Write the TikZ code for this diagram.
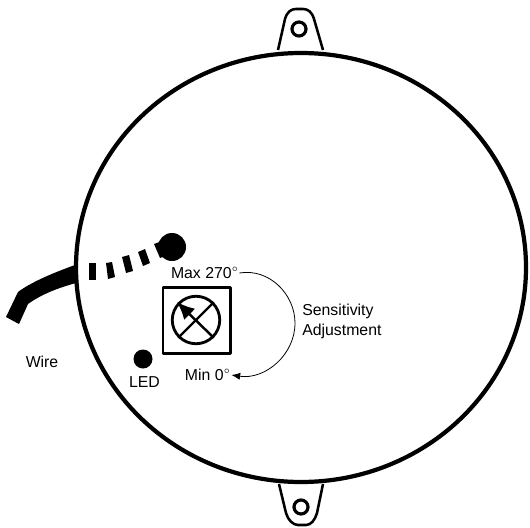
\documentclass[tikz,border=0pt]{standalone}
\usepackage{fontspec}
\setmainfont{Liberation Sans}
\usetikzlibrary{arrows.meta}
\tikzset{
  thick line/.style={line width=2.4pt},
  mid line/.style={line width=1.45pt},
  label text/.style={font=\fontsize{9}{11}\selectfont,inner sep=0pt},
}
\newcommand{\degmark}{\raisebox{0.1pt}{$^{\scriptscriptstyle\circ}$}}
\begin{document}
\begin{tikzpicture}[x=0.02cm,y=-0.02cm,line cap=butt,line join=round,>=latex]
  \useasboundingbox (0,0) rectangle (530,527);
  % mounting tabs
  \draw[mid line] (278,50) -- (285,19) .. controls (287,12) and (291,9) .. (296,9) -- (303,9) .. controls (308,9) and (312,12) .. (314,19) -- (323,50);
  \draw[mid line] (279,484) -- (286,513) .. controls (288,520) and (293,525) .. (298,525) -- (306,525) .. controls (311,525) and (315,520) .. (317,513) -- (323,484);
  \draw[line width=1.8pt] (299,29) circle (7);
  \draw[line width=1.8pt] (301,507) circle (7);
  % housing
  \draw[thick line,fill=white] (301,267.5) ellipse (225 and 214.5);
  % wire and its hidden run
  \fill (6,317) -- (18,292) .. controls (30,283) and (50,274) .. (75,265) -- (76,283) .. controls (58,288) and (42,294) .. (28,304) -- (19,324) -- cycle;
  \fill (89,263) -- (96,263) -- (96,280) -- (89,280) -- cycle;
  \fill (106,263) -- (112,262) -- (115,277) -- (108,279) -- cycle;
  \fill (122,257) -- (129,255) -- (133,271) -- (126,273) -- cycle;
  \fill (138,252) -- (145,249) -- (150,263) -- (143,266) -- cycle;
  \fill (154,244) -- (165,240) -- (165,256) -- (160,258) -- cycle;
  \fill (172,247) circle (14);
  % adjustment knob
  \draw[line width=1.6pt] (163,287.5) rectangle (230.5,353.5);
  \node[circle,draw,line width=1.6pt,minimum size=0.95cm,inner sep=0pt] (knob) at (196,320) {};
  \draw[line width=1.4pt] (knob.225) -- (knob.45);
  \draw[line width=1.4pt,-{Latex[length=10pt,width=9pt]}] (knob.315) -- (177,302);
  % LED
  \node[circle,fill=black,minimum size=0.38cm,inner sep=0pt] (led) at (143,359) {};
  \node[label text] (ledlabel) at (144.5,382) {LED};
  \node[label text] (wirelabel) at (42,362) {Wire};
  \node[label text] (maxlabel) at (205,273) {Max 270\degmark};
  \node[label text] (minlabel) at (208,375) {Min 0\degmark};
  \node[label text,align=left,anchor=west] (senslabel) at (302,321.5) {Sensitivity\\Adjustment};
  \draw[line width=0.45pt,-{Latex[length=5pt,width=4pt]}] (maxlabel.east) .. controls (270,268) and (295,295) .. (295,323) .. controls (295,355) and (265,380) .. (minlabel.east);
\end{tikzpicture}
\end{document}
